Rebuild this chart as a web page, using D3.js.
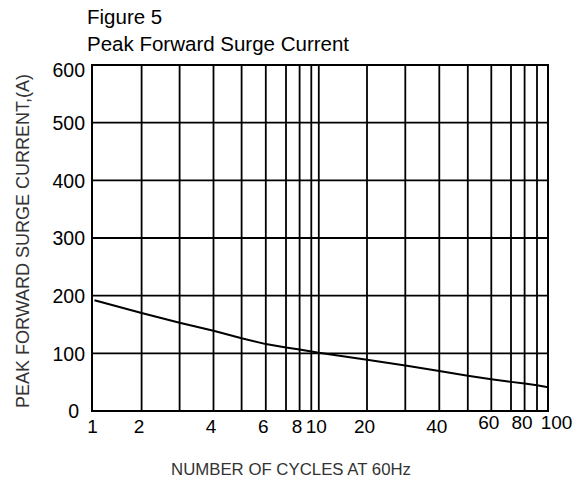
<!DOCTYPE html>
<html>
    <head>
        <meta charset="utf-8"/>
        <title> Figure 5 </title>
        <script src="https://d3js.org/d3.v7.min.js"></script>
        <style>
            body { margin: 0; background: #fff; }
            text { font-family: Arial, "Liberation Sans", sans-serif; }
        </style>
    </head>

    <body>
        <svg id="chart" width="585" height="484"></svg>

        <script>
            // grid / tick values on the (hand drawn, pseudo log) cycle axis
            var cycleGrid = [1, 2, 3, 4, 5, 6, 7, 8, 9, 10, 20, 30, 40, 50, 60, 70, 80, 90, 100];
            var cycleLabels = [1, 2, 4, 6, 8, 10, 20, 40, 60, 80, 100];
            var currentTicks = [0, 100, 200, 300, 400, 500, 600];

            // surge curve
            var cycles = [1.05, 2, 3, 4, 5, 6, 7, 8, 10, 20, 30, 40, 50, 60, 70, 80, 90, 100];
            var surgeAmps = [192, 170, 153, 139, 126, 116, 110, 106.5, 101, 89, 79, 69.5, 61, 55, 50.5, 47.5, 44.5, 41];

            var margin = {left: 92, top: 65, right: 37, bottom: 73};
            var width = 585 - margin.left - margin.right;
            var height = 484 - margin.top - margin.bottom;

            var svg = d3.select("#chart");
            var g = svg.append("g")
                .attr("transform", "translate(" + margin.left + "," + margin.top + ")");

            // the printed grid isn't a true log scale, so map each grid value
            // to where it sits in the original drawing
            var x = d3.scaleLinear()
                .domain(cycleGrid)
                .range([0, 49.6, 87.6, 121.5, 149.6, 173.8, 194, 207.6, 219.3, 226.8,
                        275, 313.3, 347.3, 375.8, 399.3, 419, 432.6, 445, 456]);

            var y = d3.scaleLinear()
                .domain([0, 600])
                .range([height, 0]);

            // vertical grid
            g.selectAll(".vgrid")
                .data(cycleGrid)
                .enter().append("line")
                .attr("class", "vgrid")
                .attr("x1", function(d){ return x(d); })
                .attr("x2", function(d){ return x(d); })
                .attr("y1", 0)
                .attr("y2", height)
                .attr("stroke", "#000")
                .attr("stroke-width", 1.8);

            // horizontal grid
            g.selectAll(".hgrid")
                .data(currentTicks)
                .enter().append("line")
                .attr("class", "hgrid")
                .attr("x1", 0)
                .attr("x2", width)
                .attr("y1", function(d){ return y(d); })
                .attr("y2", function(d){ return y(d); })
                .attr("stroke", "#000")
                .attr("stroke-width", 1.8);

            // frame
            g.append("rect")
                .attr("width", width)
                .attr("height", height)
                .attr("fill", "none")
                .attr("stroke", "#000")
                .attr("stroke-width", 2);

            // curve
            var line = d3.line()
                .x(function(d){ return x(d[0]); })
                .y(function(d){ return y(d[1]); });

            g.append("path")
                .datum(d3.zip(cycles, surgeAmps))
                .attr("d", line)
                .attr("fill", "none")
                .attr("stroke", "#000")
                .attr("stroke-width", 2);

            // y tick labels
            var yAxis = g.append("g")
                .call(d3.axisLeft(y).tickValues(currentTicks).tickSize(0).tickPadding(7));
            yAxis.select(".domain").remove();
            yAxis.selectAll("text")
                .attr("fill", "#000")
                .style("font-size", "19.5px")
                .attr("dx", function(d){ return d == 0 ? -6 : 0; })
                .attr("dy", function(d){ return d == 600 ? "0.6em" : "0.35em"; });

            // x tick labels
            var xAxis = g.append("g")
                .attr("transform", "translate(0," + height + ")")
                .call(d3.axisBottom(x).tickValues(cycleLabels).tickFormat(d3.format("d")).tickSize(0).tickPadding(9));
            xAxis.select(".domain").remove();
            xAxis.selectAll("text")
                .attr("fill", "#000")
                .style("font-size", "19px")
                .attr("dx", function(d){
                    if (d == 1) return 0;
                    if (d == 100) return 8;
                    return -3;
                })
                .attr("y", function(d){ return d >= 60 ? 5 : 9; });

            // titles
            svg.append("text")
                .attr("x", 87)
                .attr("y", 24)
                .style("font-size", "20.5px")
                .text("Figure 5");

            svg.append("text")
                .attr("x", 87)
                .attr("y", 51)
                .style("font-size", "20.5px")
                .text("Peak Forward Surge Current");

            svg.append("text")
                .attr("x", 291)
                .attr("y", 475)
                .attr("text-anchor", "middle")
                .attr("fill", "#333")
                .style("font-size", "16.8px")
                .text("NUMBER OF CYCLES AT 60Hz");

            svg.append("text")
                .attr("transform", "translate(29," + 241 + ") rotate(-90)")
                .attr("text-anchor", "middle")
                .attr("fill", "#333")
                .style("font-size", "18px")
                .text("PEAK FORWARD SURGE CURRENT,(A)");
        </script>
    </body>
</html>
